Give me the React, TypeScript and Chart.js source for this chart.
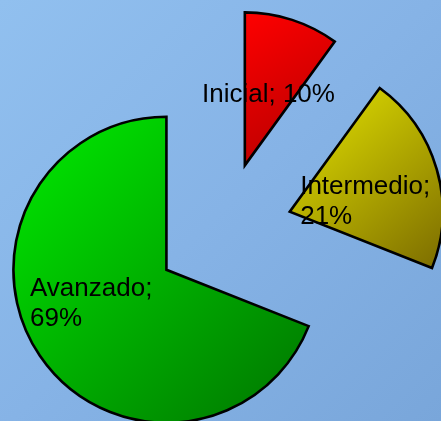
import React, { useEffect, useRef } from "react";
import { Chart, registerables } from "chart.js";

Chart.register(...registerables);

const categories = ["Inicial", "Intermedio", "Avanzado"];
const percentages = [10, 21, 69];
const labelTexts = [["Inicial; 10%"], ["Intermedio;", "21%"], ["Avanzado;", "69%"]];

// style constants
const gradientStops = [
  ["#ff0000", "#b00000"],
  ["#e6e600", "#7c6c00"],
  ["#00ec00", "#007400"],
];
const labelNudge = [
  [0, 0],
  [2, 9],
  [-12, -11],
];
const EXPLODE = 69;
const RADIUS = 153;
const FONT_SIZE = 26;
const LINE_H = 30;

const explodePlugin = {
  id: "explode",
  afterDatasetUpdate(chart: any, args: any) {
    const meta = chart.getDatasetMeta(args.index);
    meta.data.forEach((arc: any) => {
      const mid = (arc.startAngle + arc.endAngle) / 2;
      arc.x += Math.cos(mid) * EXPLODE;
      arc.y += Math.sin(mid) * EXPLODE;
    });
  },
  beforeDatasetsDraw(chart: any) {
    const ctx = chart.ctx;
    const meta = chart.getDatasetMeta(0);
    meta.data.forEach((arc: any, i: number) => {
      const { x, y, startAngle, endAngle, outerRadius } = arc;
      const pts: number[][] = [[x, y]];
      pts.push([x + Math.cos(startAngle) * outerRadius, y + Math.sin(startAngle) * outerRadius]);
      pts.push([x + Math.cos(endAngle) * outerRadius, y + Math.sin(endAngle) * outerRadius]);
      for (let k = -4; k <= 8; k++) {
        const a = (k * Math.PI) / 2;
        if (a > startAngle && a < endAngle) {
          pts.push([x + Math.cos(a) * outerRadius, y + Math.sin(a) * outerRadius]);
        }
      }
      const xs = pts.map((p) => p[0]);
      const ys = pts.map((p) => p[1]);
      const g = ctx.createLinearGradient(Math.min(...xs), Math.min(...ys), Math.max(...xs), Math.max(...ys));
      g.addColorStop(0, gradientStops[i][0]);
      g.addColorStop(1, gradientStops[i][1]);
      arc.options = Object.assign({}, arc.options, { backgroundColor: g });
    });
  },
  afterDatasetsDraw(chart: any) {
    const ctx = chart.ctx;
    const meta = chart.getDatasetMeta(0);
    ctx.save();
    ctx.font = `${FONT_SIZE}px "Liberation Sans", Arial, sans-serif`;
    ctx.fillStyle = "#000000";
    ctx.textAlign = "left";
    ctx.textBaseline = "alphabetic";
    meta.data.forEach((arc: any, i: number) => {
      const mid = (arc.startAngle + arc.endAngle) / 2;
      const d = arc.outerRadius / 2;
      const ax = arc.x + Math.cos(mid) * d + labelNudge[i][0];
      const ay = arc.y + Math.sin(mid) * d + labelNudge[i][1];
      const lines = labelTexts[i];
      const w = Math.max(...lines.map((l) => ctx.measureText(l).width));
      const left = ax - w / 2;
      const capH = FONT_SIZE * 0.716;
      lines.forEach((line, j) => {
        const by = ay + (j - (lines.length - 1) / 2) * LINE_H + capH / 2;
        ctx.fillText(line, left, by);
      });
    });
    ctx.restore();
  },
};

export default function App() {
  const ref = useRef<HTMLCanvasElement | null>(null);
  useEffect(() => {
    if (!ref.current) return;
    const chart = new Chart(ref.current, {
      type: "pie",
      data: {
        labels: categories,
        datasets: [
          {
            data: percentages,
            backgroundColor: gradientStops.map((s) => s[0]),
            borderColor: "#000000",
            borderWidth: 2.6,
            borderJoinStyle: "miter",
            radius: RADIUS,
          } as any,
        ],
      },
      options: {
        responsive: false,
        animation: false,
        events: [],
        layout: { padding: { left: 6, top: 41, right: 0, bottom: 0 } },
        plugins: {
          legend: { display: false },
          tooltip: { enabled: false },
          title: { display: false },
        },
      },
      plugins: [explodePlugin as any],
    });
    return () => chart.destroy();
  }, []);
  return (
    <div
      style={{
        position: "fixed",
        left: 0,
        top: 0,
        width: 441,
        height: 421,
        background: "linear-gradient(135deg, #91c0ef 0%, #86b3e6 50%, #79a6da 100%)",
      }}
    >
      <canvas ref={ref} width={441} height={421} style={{ display: "block" }} />
    </div>
  );
}
